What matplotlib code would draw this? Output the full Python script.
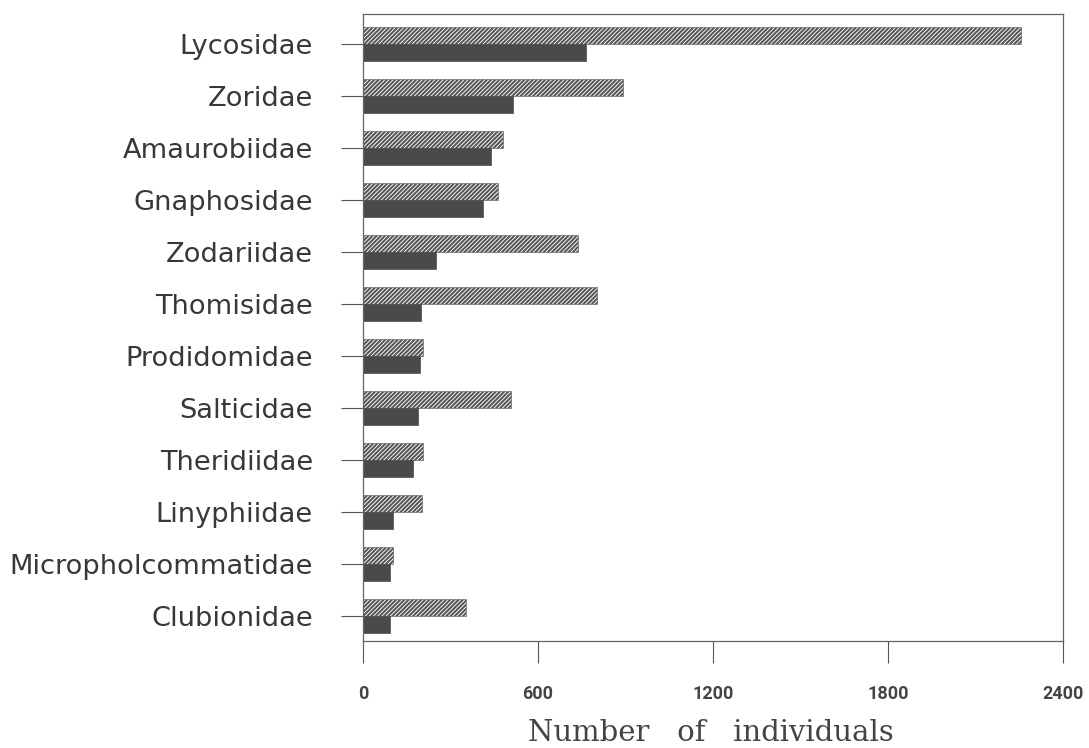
import matplotlib
matplotlib.use("Agg")
import matplotlib.pyplot as plt
from matplotlib import font_manager
import numpy as np

# Spider families, listed top to bottom
families = ["Lycosidae", "Zoridae", "Amaurobiidae", "Gnaphosidae", "Zodariidae",
            "Thomisidae", "Prodidomidae", "Salticidae", "Theridiidae",
            "Linyphiidae", "Micropholcommatidae", "Clubionidae"]
# Hatched series (upper bar of each pair)
hatched_counts = [2255, 890, 479, 462, 736, 804, 206, 506, 206, 201, 103, 352]
# Solid series (lower bar of each pair)
solid_counts = [765, 515, 438, 410, 250, 198, 196, 190, 171, 103, 92, 92]
x_ticks = [0, 600, 1200, 1800, 2400]
x_label = "Number   of   individuals"


def first_font(names):
    available = {f.name for f in font_manager.fontManager.ttflist}
    for n in names:
        if n in available:
            return n
    return "DejaVu Sans"


label_font = "DejaVu Sans"
tick_font = first_font(["Liberation Sans Narrow", "Roboto", "Liberation Sans"])
serif_font = first_font(["DejaVu Serif", "Liberation Serif"])

plt.rcParams["hatch.linewidth"] = 1.45
plt.rcParams["hatch.color"] = "#333333"

fig = plt.figure(figsize=(10.89, 7.48), dpi=100)
ax = fig.add_axes([0.3333, 0.1430, 0.6428, 0.8383])

n = len(families)
pos = np.arange(n)[::-1]  # first family at the top
h = 0.33

ax.barh(pos + h / 2, hatched_counts, height=h, color="white",
        edgecolor="#555555", linewidth=0.4, hatch="////////")
ax.barh(pos - h / 2, solid_counts, height=h, color="#4a4a4a",
        edgecolor="#4a4a4a", linewidth=0.5)

ax.set_xlim(0, 2400)
ax.set_ylim(-0.48, n - 1 + 0.58)

ax.set_yticks(pos)
ax.set_yticklabels(families, fontfamily=label_font, fontsize=19.6,
                   color="#383838")
ax.set_xticks(x_ticks)
ax.set_xticklabels([str(v) for v in x_ticks], fontfamily=tick_font,
                   fontsize=13, fontweight="bold", color="#444444")

ax.tick_params(axis="y", direction="out", length=16, width=0.8,
               color="#555555", pad=20)
ax.tick_params(axis="x", direction="out", length=16, width=0.8,
               color="#555555", pad=16)

for side in ["top", "right", "bottom", "left"]:
    ax.spines[side].set_color("#666666")
    ax.spines[side].set_linewidth(0.9)

ax.set_xlabel(x_label, fontfamily=serif_font, fontsize=21, color="#444444")
ax.xaxis.set_label_coords(0.497, -0.147)
ax.xaxis.label.set_verticalalignment("center")

fig.savefig("out.png", dpi=100)
